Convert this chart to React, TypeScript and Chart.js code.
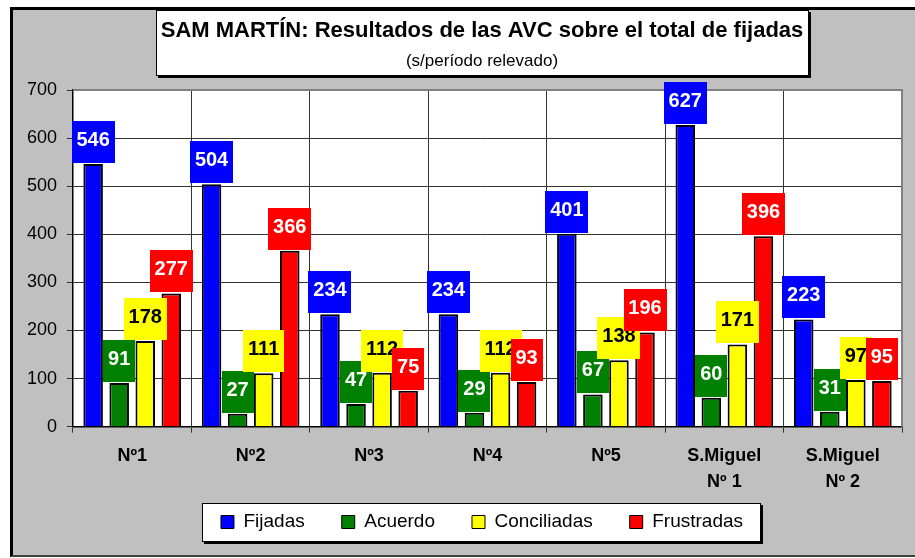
import React, { useEffect, useRef } from 'react';
import { Chart, registerables } from 'chart.js';

Chart.register(...registerables);

// ---- data ----
const categories: (string | string[])[] = ['Nº1', 'Nº2', 'Nº3', 'Nº4', 'Nº5', ['S.Miguel', 'Nº 1'], ['S.Miguel', 'Nº 2']];
const fijadas = [546, 504, 234, 234, 401, 627, 223];
const acuerdo = [91, 27, 47, 29, 67, 60, 31];
const conciliadas = [178, 111, 112, 112, 138, 171, 97];
const frustradas = [277, 366, 75, 93, 196, 396, 95];
const seriesNames = ['Fijadas', 'Acuerdo', 'Conciliadas', 'Frustradas'];
const seriesValues = [fijadas, acuerdo, conciliadas, frustradas];
const seriesColors = ['#0000FF', '#008000', '#FFFF00', '#FF0000'];
const labelTextColors = ['#FFFFFF', '#FFFFFF', '#000000', '#FFFFFF'];
const yMin = 0;
const yMax = 700;
const yStep = 100;
const titleText = 'SAM MARTÍN: Resultados de las AVC sobre el total de fijadas';
const subtitleText = '(s/período relevado)';

const FONT = '"Liberation Sans", Arial, Helvetica, sans-serif';
const BOX_SHIFT = -5.5;
const LEGEND_CENTER_Y = 512;

const decorPlugin = {
  id: 'decor',
  afterLayout(chart: any) {
    chart.boxes.forEach((b: any) => {
      if (!b.axis && (b.position === 'top' || b.position === 'bottom')) {
        b.left += BOX_SHIFT;
        b.right += BOX_SHIFT;
      }
    });
    const lg = chart.legend;
    if (lg) {
      const lo = lg.options.labels;
      const target = LEGEND_CENTER_Y - lo.padding - lo.font.size / 2;
      const d = target - lg.top;
      lg.top += d;
      lg.bottom += d;
    }
  },
  beforeDraw(chart: any) {
    const { ctx, chartArea } = chart;
    ctx.save();
    // plot background
    ctx.fillStyle = '#FFFFFF';
    ctx.fillRect(chartArea.left, chartArea.top, chartArea.right - chartArea.left, chartArea.bottom - chartArea.top);
    // title box
    const tb = chart.titleBlock;
    if (tb) {
      const cx = (tb.left + tb.right) / 2;
      const w = 653, h = 66;
      const x0 = Math.round(cx - w / 2);
      ctx.fillStyle = '#000';
      ctx.fillRect(x0 + 2, 2, w, h);
      ctx.fillStyle = '#fff';
      ctx.fillRect(x0, 0, w, h);
      ctx.strokeStyle = '#000';
      ctx.lineWidth = 1;
      ctx.strokeRect(x0 + 0.5, 0.5, w - 1, h - 1);
    }
    // legend box
    const lg = chart.legend;
    if (lg && lg.legendHitBoxes && lg.legendHitBoxes.length) {
      const hbs = lg.legendHitBoxes;
      const left = Math.round(hbs[0].left - 19);
      const last = hbs[hbs.length - 1];
      const right = Math.round(last.left + last.width + 18);
      const cy = hbs[0].top + hbs[0].height / 2;
      const top = Math.round(cy - 19);
      const bottom = Math.round(cy + 20);
      ctx.fillStyle = '#000';
      ctx.fillRect(left + 2, top + 2, right - left, bottom - top);
      ctx.fillStyle = '#fff';
      ctx.fillRect(left, top, right - left, bottom - top);
      ctx.strokeStyle = '#000';
      ctx.lineWidth = 1;
      ctx.strokeRect(left + 0.5, top + 0.5, right - left - 1, bottom - top - 1);
    }
    ctx.restore();
  },
  beforeDatasetsDraw(chart: any) {
    const { ctx, chartArea } = chart;
    ctx.save();
    ctx.strokeStyle = '#808080';
    ctx.lineWidth = 2;
    ctx.beginPath();
    ctx.moveTo(chartArea.left, chartArea.top);
    ctx.lineTo(chartArea.right, chartArea.top);
    ctx.lineTo(chartArea.right, chartArea.bottom);
    ctx.stroke();
    ctx.restore();
  },
  afterDatasetsDraw(chart: any) {
    const ctx = chart.ctx;
    ctx.save();
    ctx.font = `bold 20px ${FONT}`;
    ctx.textAlign = 'center';
    ctx.textBaseline = 'alphabetic';
    chart.data.datasets.forEach((ds: any, i: number) => {
      const meta = chart.getDatasetMeta(i);
      meta.data.forEach((bar: any, j: number) => {
        const text = String(ds.data[j]);
        const w = Math.round(ctx.measureText(text).width + 10);
        const x = bar.x;
        const top = bar.y;
        ctx.fillStyle = seriesColors[i];
        ctx.fillRect(Math.round(x - w / 2), Math.round(top - 43), w, 42);
        ctx.fillStyle = labelTextColors[i];
        ctx.fillText(text, x, top - 18);
      });
    });
    ctx.restore();
  },
};

export default function App() {
  const canvasRef = useRef<HTMLCanvasElement | null>(null);

  useEffect(() => {
    if (!canvasRef.current) return;
    const chart = new Chart(canvasRef.current, {
      type: 'bar',
      data: {
        labels: categories as any,
        datasets: seriesNames.map((name, i) => ({
          label: name,
          data: seriesValues[i],
          backgroundColor: seriesColors[i],
          borderColor: '#000000',
          borderWidth: 2,
          categoryPercentage: 0.88,
          barPercentage: 0.75,
        })),
      },
      options: {
        responsive: false,
        animation: false,
        events: [],
        layout: { padding: { left: 0, right: 13, top: 0, bottom: -15.9 } },
        scales: {
          x: {
            grid: { display: true, color: '#333333', lineWidth: 1, tickLength: 6, offset: true },
            border: { display: true, color: '#000000', width: 1.5 },
            ticks: {
              color: '#000000',
              font: { family: FONT, size: 18, weight: 'bold', lineHeight: 1.45 },
              padding: 10,
              maxRotation: 0,
              autoSkip: false,
            },
          },
          y: {
            min: yMin,
            max: yMax,
            grid: { color: '#333333', lineWidth: 1, tickLength: 6 },
            border: { display: true, color: '#000000', width: 1.5 },
            ticks: {
              stepSize: yStep,
              color: '#000000',
              font: { family: FONT, size: 18, weight: 'normal' },
              padding: 10,
            },
            afterFit(scale: any) {
              scale.width = 60;
            },
          },
        },
        plugins: {
          title: {
            display: true,
            text: titleText,
            fullSize: false,
            color: '#000000',
            font: { family: FONT, size: 22, weight: 'bold', lineHeight: 1.2 },
            padding: { top: 7.8, bottom: 4 },
          },
          subtitle: {
            display: true,
            text: subtitleText,
            fullSize: false,
            color: '#000000',
            font: { family: FONT, size: 17, weight: 'normal', lineHeight: 1.2 },
            padding: { top: 2.6, bottom: 18.8 },
          },
          legend: {
            display: true,
            position: 'bottom',
            fullSize: false,
            labels: {
              boxWidth: 13,
              boxHeight: 13,
              padding: 37,
              color: '#000000',
              font: { family: FONT, size: 19, weight: 'normal' },
              generateLabels(chart: any) {
                return chart.data.datasets.map((ds: any, i: number) => ({
                  text: ds.label,
                  fillStyle: seriesColors[i],
                  strokeStyle: '#000000',
                  lineWidth: 1,
                  hidden: false,
                  datasetIndex: i,
                  fontColor: '#000000',
                }));
              },
            },
          },
          tooltip: { enabled: false },
        },
      },
      plugins: [decorPlugin],
    } as any);
    return () => chart.destroy();
  }, []);

  return (
    <div
      style={{
        position: 'absolute',
        left: 10,
        top: 7,
        width: 905,
        height: 550,
        boxSizing: 'border-box',
        background: '#C0C0C0',
        borderTop: '3px solid #000',
        borderLeft: '3px solid #000',
        borderBottom: '2px solid #404040',
        overflow: 'hidden',
      }}
    >
      <canvas ref={canvasRef} width={902} height={545} style={{ display: 'block', width: 902, height: 545 }} />
    </div>
  );
}
